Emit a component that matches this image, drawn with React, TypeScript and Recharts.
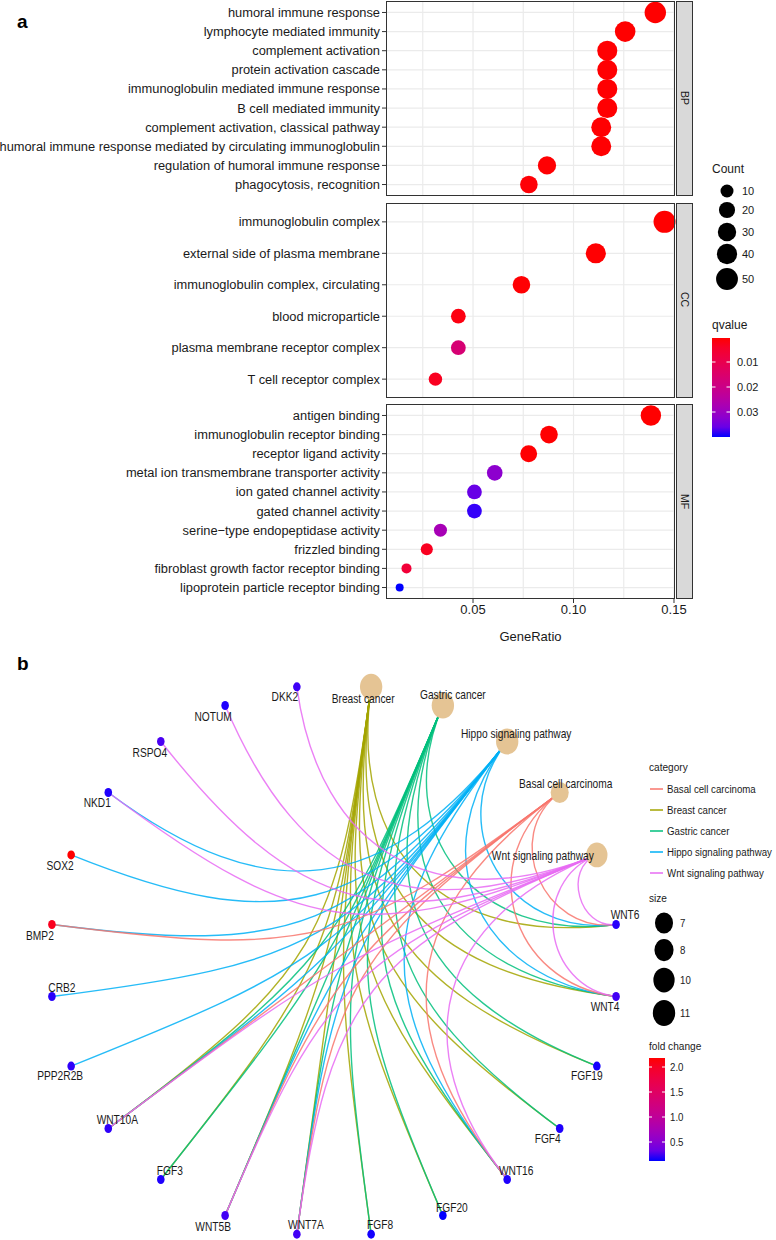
import React from 'react';
import { ScatterChart, ComposedChart, Scatter, Line, XAxis, YAxis, CartesianGrid } from 'recharts';

// ---------------- panel a : GO dot plot ----------------
const bpTerms = [
  'humoral immune response',
  'lymphocyte mediated immunity',
  'complement activation',
  'protein activation cascade',
  'immunoglobulin mediated immune response',
  'B cell mediated immunity',
  'complement activation, classical pathway',
  'humoral immune response mediated by circulating immunoglobulin',
  'regulation of humoral immune response',
  'phagocytosis, recognition',
];
const bpRatio = [0.1407, 0.1257, 0.1168, 0.1168, 0.1168, 0.1168, 0.1138, 0.1138, 0.0868, 0.0778];
const bpCount = [47, 42, 39, 39, 39, 39, 38, 38, 29, 26];
const bpQvalue = [0.0004, 0.0004, 0.0005, 0.0005, 0.0005, 0.0005, 0.0005, 0.0005, 0.0006, 0.0008];

const ccTerms = [
  'immunoglobulin complex',
  'external side of plasma membrane',
  'immunoglobulin complex, circulating',
  'blood microparticle',
  'plasma membrane receptor complex',
  'T cell receptor complex',
];
const ccRatio = [0.1453, 0.1111, 0.0741, 0.0427, 0.0427, 0.0313];
const ccCount = [51, 39, 26, 15, 15, 11];
const ccQvalue = [0.0004, 0.0005, 0.0006, 0.0015, 0.0165, 0.003];

const mfTerms = [
  'antigen binding',
  'immunoglobulin receptor binding',
  'receptor ligand activity',
  'metal ion transmembrane transporter activity',
  'ion gated channel activity',
  'gated channel activity',
  'serine\u2212type endopeptidase activity',
  'frizzled binding',
  'fibroblast growth factor receptor binding',
  'lipoprotein particle receptor binding',
];
const mfRatio = [0.1385, 0.0878, 0.0777, 0.0608, 0.0507, 0.0507, 0.0338, 0.027, 0.0169, 0.0135];
const mfCount = [41, 26, 23, 18, 15, 15, 10, 8, 5, 4];
const mfQvalue = [0.0004, 0.0005, 0.0006, 0.032, 0.036, 0.039, 0.028, 0.003, 0.0064, 0.04];

const ratioTicks = [0.05, 0.1, 0.15];
const ratioGrid = [0.025, 0.05, 0.075, 0.1, 0.125, 0.15];
const countBreaks = [10, 20, 30, 40, 50];
const qBreaks = [0.01, 0.02, 0.03];

// ---------------- panel b : gene-concept network ----------------
const pathways = ['Breast cancer', 'Gastric cancer', 'Hippo signaling pathway', 'Basal cell carcinoma', 'Wnt signaling pathway'];
const pathwaySize = [11, 11, 11, 7, 10];
const legendPathways = ['Basal cell carcinoma', 'Breast cancer', 'Gastric cancer', 'Hippo signaling pathway', 'Wnt signaling pathway'];

const genes = [
  'WNT6', 'WNT4', 'FGF19', 'FGF4', 'WNT16', 'FGF20', 'FGF8', 'WNT7A', 'WNT5B', 'FGF3',
  'WNT10A', 'PPP2R2B', 'CRB2', 'BMP2', 'SOX2', 'NKD1', 'RSPO4', 'NOTUM', 'DKK2',
];
const foldChange = [0.15, 0.2, 0.13, 0.14, 0.14, 0.12, 0.13, 0.2, 0.2, 0.14, 0.16, 0.16, 0.15, 2.05, 2.18, 0.14, 0.22, 0.14, 0.19];

const breastGenes = ['WNT6', 'WNT4', 'FGF19', 'FGF4', 'WNT16', 'FGF20', 'FGF8', 'WNT7A', 'WNT5B', 'FGF3', 'WNT10A'];
const gastricGenes = ['WNT6', 'WNT4', 'FGF19', 'FGF4', 'WNT16', 'FGF20', 'FGF8', 'WNT7A', 'WNT5B', 'FGF3', 'WNT10A'];
const hippoGenes = ['WNT6', 'WNT4', 'WNT16', 'WNT7A', 'WNT5B', 'WNT10A', 'PPP2R2B', 'CRB2', 'BMP2', 'SOX2', 'NKD1'];
const basalGenes = ['WNT6', 'WNT4', 'WNT16', 'WNT7A', 'WNT5B', 'WNT10A', 'BMP2'];
const wntGenes = ['WNT6', 'WNT4', 'WNT16', 'WNT7A', 'WNT5B', 'WNT10A', 'NKD1', 'RSPO4', 'NOTUM', 'DKK2'];
const pathwayGenes = [breastGenes, gastricGenes, hippoGenes, basalGenes, wntGenes];

const sizeBreaks = [7, 8, 10, 11];
const fcBreaks = [0.5, 1.0, 1.5, 2.0];

// ---------------- styling ----------------
const FONT = "'Liberation Sans', Arial, Helvetica, sans-serif";
const TEXT = '#1A1A1A';
const PATHWAY_COLOR: Record<string, string> = {
  'Basal cell carcinoma': '#F8766D',
  'Breast cancer': '#A3A500',
  'Gastric cancer': '#00BF7D',
  'Hippo signaling pathway': '#00B0F6',
  'Wnt signaling pathway': '#E76BF3',
};
// label placement (ggrepel-like offsets, px)
const LABEL_NUDGE: Record<string, [number, number]> = {
  'Breast cancer': [-8, 12],
  'Gastric cancer': [10, -11],
  'Hippo signaling pathway': [9, -8],
  'Basal cell carcinoma': [6, -9],
  'Wnt signaling pathway': [-54, 1],
  WNT6: [9, -10], WNT4: [-11, 10], FGF19: [-10, 10], FGF4: [-12, 10], WNT16: [9, -9],
  FGF20: [9, -8], FGF8: [9, -9], WNT7A: [9, -9], WNT5B: [-12, 11], FGF3: [9, -9],
  WNT10A: [9, -9], PPP2R2B: [-11, 10], CRB2: [10, -9], BMP2: [-12, 11], SOX2: [-11, 11],
  NKD1: [-11, 10], RSPO4: [-11, 11], NOTUM: [-12, 11], DKK2: [-12, 10],
};

// colour ramps interpolated in CIELAB like ggplot2
const toLin = (c: number) => { c /= 255; return c <= 0.04045 ? c / 12.92 : Math.pow((c + 0.055) / 1.055, 2.4); };
const fromLin = (c: number) => {
  const v = c <= 0.0031308 ? 12.92 * c : 1.055 * Math.pow(Math.max(c, 0), 1 / 2.4) - 0.055;
  return Math.round(Math.max(0, Math.min(1, v)) * 255);
};
const hexToLab = (hex: string) => {
  const r = toLin(parseInt(hex.slice(1, 3), 16));
  const g = toLin(parseInt(hex.slice(3, 5), 16));
  const b = toLin(parseInt(hex.slice(5, 7), 16));
  const X = (0.4124 * r + 0.3576 * g + 0.1805 * b) / 0.95047;
  const Y = 0.2126 * r + 0.7152 * g + 0.0722 * b;
  const Z = (0.0193 * r + 0.1192 * g + 0.9505 * b) / 1.08883;
  const f = (t: number) => (t > 0.008856 ? Math.cbrt(t) : 7.787 * t + 16 / 116);
  return [116 * f(Y) - 16, 500 * (f(X) - f(Y)), 200 * (f(Y) - f(Z))];
};
const labToRgb = (L: number, a: number, bb: number) => {
  const fy = (L + 16) / 116, fx = fy + a / 500, fz = fy - bb / 200;
  const inv = (t: number) => (t * t * t > 0.008856 ? t * t * t : (t - 16 / 116) / 7.787);
  const X = inv(fx) * 0.95047, Y = inv(fy), Z = inv(fz) * 1.08883;
  const r = 3.2406 * X - 1.5372 * Y - 0.4986 * Z;
  const g = -0.9689 * X + 1.8758 * Y + 0.0415 * Z;
  const b = 0.0557 * X - 0.204 * Y + 1.057 * Z;
  return `rgb(${fromLin(r)},${fromLin(g)},${fromLin(b)})`;
};
const ramp = (low: string, high: string) => {
  const A = hexToLab(low), B = hexToLab(high);
  return (t: number) => {
    const u = Math.max(0, Math.min(1, t));
    return labToRgb(A[0] + (B[0] - A[0]) * u, A[1] + (B[1] - A[1]) * u, A[2] + (B[2] - A[2]) * u);
  };
};

const allQ = [...bpQvalue, ...ccQvalue, ...mfQvalue];
const qMin = Math.min(...allQ), qMax = Math.max(...allQ);
const qRamp = ramp('#FF0000', '#0000FF');
const qColor = (q: number) => qRamp((q - qMin) / (qMax - qMin));

const allCounts = [...bpCount, ...ccCount, ...mfCount];
const cMin = Math.min(...allCounts), cMax = Math.max(...allCounts);
const countRadius = (c: number) => (8 + 14 * Math.sqrt(Math.max(0, c - cMin) / (cMax - cMin))) / 2;

const fcMin = Math.min(...foldChange), fcMax = Math.max(...foldChange);
const fcRamp = ramp('#0000FF', '#FF0000');
const fcColor = (v: number) => fcRamp((v - fcMin) / (fcMax - fcMin));

const pathwayRy = (s: number) => 10.5 + (s - 7) * 0.625;

// ---------------- panel a components ----------------
const PANEL_H = 195;
const PLOT_LEFT = 386;
const PLOT_RIGHT = 675;
const CHART_W = 700;
const X_DOMAIN = [0.0067, 0.1505];

const GoDot = (props: any) => {
  const { cx, cy, payload } = props;
  if (cx == null || cy == null) return null;
  return <circle cx={cx} cy={cy} r={countRadius(payload.count)} fill={qColor(payload.qvalue)} />;
};

// plain one-line tick label (Recharts' own Text would wrap the long term)
const TermTick = (props: any) => {
  const { x, y, payload, terms } = props;
  return (
    <text x={x} y={y} textAnchor="end" dominantBaseline="central" fontSize={12.85} fill={TEXT}>
      {terms[payload.value]}
    </text>
  );
};

const Facet = ({ name, terms, ratio, count, qvalue, top, showAxis }: any) => {
  const data = terms.map((term: string, i: number) => ({ term, idx: i, ratio: ratio[i], count: count[i], qvalue: qvalue[i] }));
  const idx = data.map((d: any) => d.idx);
  const axisH = showAxis ? 26 : 0;
  return (
    <div style={{ position: 'absolute', left: 0, top, width: CHART_W, height: PANEL_H + axisH }}>
      <ScatterChart
        width={CHART_W}
        height={PANEL_H + axisH}
        margin={{ top: 0, right: CHART_W - PLOT_RIGHT, bottom: 0, left: 0 }}
      >
        <CartesianGrid stroke="#EBEBEB" strokeWidth={1.2} horizontalValues={idx} verticalValues={ratioGrid} />
        <XAxis
          type="number"
          dataKey="ratio"
          domain={X_DOMAIN}
          ticks={ratioTicks}
          hide={!showAxis}
          height={axisH || 1}
          axisLine={false}
          tickSize={4}
          tickMargin={2}
          tickLine={{ stroke: '#333333' }}
          tick={{ fill: TEXT, fontSize: 13 }}
          tickFormatter={(v: number) => v.toFixed(2)}
        />
        <YAxis
          type="number"
          dataKey="idx"
          domain={[-0.6, terms.length - 0.4]}
          reversed
          ticks={idx}
          interval={0}
          width={PLOT_LEFT}
          axisLine={false}
          tickSize={4}
          tickMargin={2}
          tickLine={{ stroke: '#333333' }}
          tick={<TermTick terms={terms} />}
        />
        <Scatter data={data} shape={GoDot} isAnimationActive={false} />
      </ScatterChart>
      <div
        style={{
          position: 'absolute', left: PLOT_LEFT, top: 0, width: PLOT_RIGHT - PLOT_LEFT, height: PANEL_H,
          border: '1px solid #333333', boxSizing: 'border-box', pointerEvents: 'none',
        }}
      />
      <div
        style={{
          position: 'absolute', left: PLOT_RIGHT + 1, top: 0, width: 17, height: PANEL_H,
          background: '#D9D9D9', border: '1px solid #333333', boxSizing: 'border-box',
          display: 'flex', alignItems: 'center', justifyContent: 'center',
          writingMode: 'vertical-rl', fontSize: 10.5, color: TEXT,
        }}
      >
        {name}
      </div>
    </div>
  );
};

// ---------------- panel b components ----------------
const nodeNames = [...pathways, ...genes];
const nodePos = (name: string) => {
  const k = nodeNames.indexOf(name);
  const a = Math.PI / 2 - ((2 * Math.PI) / nodeNames.length) * (k + 0.5);
  return { x: Math.cos(a), y: Math.sin(a) };
};

// ggraph circular arc: cubic bezier whose control points are the end points
// pulled toward the centre by half the chord length
const arcControls = (p: { x: number; y: number }, q: { x: number; y: number }) => {
  const d = Math.hypot(q.x - p.x, q.y - p.y) / 2;
  return [p, { x: p.x * (1 - d), y: p.y * (1 - d) }, { x: q.x * (1 - d), y: q.y * (1 - d) }, q];
};

const bezierCurve = (context: any) => {
  let pts: number[][] = [];
  return {
    areaStart() {},
    areaEnd() {},
    lineStart() { pts = []; },
    point(x: number, y: number) { pts.push([+x, +y]); },
    lineEnd() {
      if (!pts.length) return;
      context.moveTo(pts[0][0], pts[0][1]);
      if (pts.length === 4) context.bezierCurveTo(pts[1][0], pts[1][1], pts[2][0], pts[2][1], pts[3][0], pts[3][1]);
      else pts.slice(1).forEach((p) => context.lineTo(p[0], p[1]));
    },
  };
};

const edges = pathways.flatMap((p, i) =>
  pathwayGenes[i].map((g) => ({ id: `${p}|${g}`, color: PATHWAY_COLOR[p], data: arcControls(nodePos(p), nodePos(g)) }))
);
const pathwayNodes = pathways.map((p, i) => ({ name: p, size: pathwaySize[i], ...nodePos(p) }));
const geneNodes = genes.map((g, i) => ({ name: g, fc: foldChange[i], ...nodePos(g) }));

const NodeLabel = ({ cx, cy, name }: any) => {
  const [dx, dy] = LABEL_NUDGE[name] || [0, 0];
  return (
    <text
      transform={`translate(${cx + dx},${cy + dy}) scale(0.85,1)`}
      textAnchor="middle"
      dominantBaseline="central"
      fontSize={12}
      fill={TEXT}
    >
      {name}
    </text>
  );
};

const PathwayNode = (props: any) => {
  const { cx, cy, payload } = props;
  if (cx == null || cy == null) return null;
  const ry = pathwayRy(payload.size);
  return (
    <g>
      <ellipse cx={cx} cy={cy} rx={ry * 0.86} ry={ry} fill="#E5C494" />
      <NodeLabel cx={cx} cy={cy} name={payload.name} />
    </g>
  );
};

const GeneNode = (props: any) => {
  const { cx, cy, payload } = props;
  if (cx == null || cy == null) return null;
  return (
    <g>
      <ellipse cx={cx} cy={cy} rx={3.8} ry={4.5} fill={fcColor(payload.fc)} />
      <NodeLabel cx={cx} cy={cy} name={payload.name} />
    </g>
  );
};

// unit circle -> 284.5 px horizontally, 276 px vertically, centre at (334, 960.5)
const NET_TOP = 640;
const NET_W = 776;
const NET_H = 600;
const NET_X = [-1.1, 1.1];
const NET_Y = [-1.0, 1.1];
const netMargin = {
  left: 334 - 1.1 * 284.5,
  right: NET_W - (334 + 1.1 * 284.5),
  top: 960.5 - NET_TOP - 1.1 * 276,
  bottom: NET_H - (960.5 - NET_TOP + 1.0 * 276),
};

const Network = () => (
  <div style={{ position: 'absolute', left: 0, top: NET_TOP, width: NET_W, height: NET_H }}>
    <ComposedChart width={NET_W} height={NET_H} margin={netMargin}>
      <XAxis type="number" dataKey="x" domain={NET_X} hide />
      <YAxis type="number" dataKey="y" domain={NET_Y} hide />
      {edges.map((e) => (
        <Line
          key={e.id}
          data={e.data}
          dataKey="y"
          type={bezierCurve as any}
          stroke={e.color}
          strokeOpacity={0.85}
          strokeWidth={1.4}
          dot={false}
          activeDot={false}
          isAnimationActive={false}
        />
      ))}
      <Scatter data={pathwayNodes} shape={PathwayNode} isAnimationActive={false} />
      <Scatter data={geneNodes} shape={GeneNode} isAnimationActive={false} />
    </ComposedChart>
  </div>
);

// ---------------- legends ----------------
const Legends = () => {
  const qy = (q: number) => 338 + ((q - qMin) / (qMax - qMin)) * 99;
  const fy = (v: number) => 1058 + ((fcMax - v) / (fcMax - fcMin)) * 103;
  const countY = [191, 210, 232, 254, 279];
  const sizeY = [923, 950, 980, 1013];
  const stops = Array.from({ length: 11 }, (_, i) => i / 10);
  const narrow = (x: number, y: number) => `translate(${x},${y}) scale(0.88,1)`;
  return (
    <svg width={776} height={1240} style={{ position: 'absolute', left: 0, top: 0, pointerEvents: 'none' }} fontFamily={FONT}>
      <defs>
        <linearGradient id="qGrad" x1="0" y1="0" x2="0" y2="1">
          {stops.map((s) => <stop key={s} offset={s} stopColor={qColor(qMin + s * (qMax - qMin))} />)}
        </linearGradient>
        <linearGradient id="fcGrad" x1="0" y1="0" x2="0" y2="1">
          {stops.map((s) => <stop key={s} offset={s} stopColor={fcColor(fcMax - s * (fcMax - fcMin))} />)}
        </linearGradient>
      </defs>

      <text x={17} y={21} dominantBaseline="central" fontSize={19} fontWeight="bold" fill="#000">a</text>
      <text x={17} y={663} dominantBaseline="central" fontSize={19} fontWeight="bold" fill="#000">b</text>

      {/* Count */}
      <text x={712} y={169} dominantBaseline="central" fontSize={12} fill={TEXT}>Count</text>
      {countBreaks.map((c, i) => (
        <g key={c}>
          <circle cx={727} cy={countY[i]} r={countRadius(c)} fill="#000" />
          <text x={742} y={countY[i]} dominantBaseline="central" fontSize={11} fill={TEXT}>{c}</text>
        </g>
      ))}

      {/* qvalue */}
      <text x={712} y={325} dominantBaseline="central" fontSize={12} fill={TEXT}>qvalue</text>
      <rect x={712} y={338} width={18} height={99} fill="url(#qGrad)" />
      {qBreaks.map((q) => (
        <g key={q}>
          <line x1={712} x2={715.5} y1={qy(q)} y2={qy(q)} stroke="#fff" strokeWidth={1} />
          <line x1={726.5} x2={730} y1={qy(q)} y2={qy(q)} stroke="#fff" strokeWidth={1} />
          <text x={737} y={qy(q)} dominantBaseline="central" fontSize={11} fill={TEXT}>{q.toFixed(2)}</text>
        </g>
      ))}

      {/* category */}
      <text transform={narrow(649, 767)} dominantBaseline="central" fontSize={11.5} fill={TEXT}>category</text>
      {legendPathways.map((p, i) => (
        <g key={p}>
          <line x1={650} x2={663} y1={789 + 21 * i} y2={789 + 21 * i} stroke={PATHWAY_COLOR[p]} strokeWidth={1.5} />
          <text transform={narrow(667, 789 + 21 * i)} dominantBaseline="central" fontSize={11} fill={TEXT}>{p}</text>
        </g>
      ))}

      {/* size */}
      <text transform={narrow(649, 898)} dominantBaseline="central" fontSize={11.5} fill={TEXT}>size</text>
      {sizeBreaks.map((s, i) => (
        <g key={s}>
          <ellipse cx={664} cy={sizeY[i]} rx={pathwayRy(s) * 0.86} ry={pathwayRy(s)} fill="#000" />
          <text transform={narrow(680, sizeY[i])} dominantBaseline="central" fontSize={11} fill={TEXT}>{s}</text>
        </g>
      ))}

      {/* fold change */}
      <text transform={narrow(649, 1046)} dominantBaseline="central" fontSize={11.5} fill={TEXT}>fold change</text>
      <rect x={649} y={1058} width={16} height={103} fill="url(#fcGrad)" />
      {fcBreaks.map((v) => (
        <g key={v}>
          <line x1={649} x2={652} y1={fy(v)} y2={fy(v)} stroke="#fff" strokeWidth={1} />
          <line x1={662} x2={665} y1={fy(v)} y2={fy(v)} stroke="#fff" strokeWidth={1} />
          <text transform={narrow(670, fy(v))} dominantBaseline="central" fontSize={11} fill={TEXT}>{v.toFixed(1)}</text>
        </g>
      ))}
    </svg>
  );
};

export default function App() {
  return (
    <div
      style={{
        position: 'absolute', left: 0, top: 0, width: 776, height: 1240,
        background: '#fff', fontFamily: FONT, overflow: 'hidden',
      }}
    >
      <Facet name="BP" terms={bpTerms} ratio={bpRatio} count={bpCount} qvalue={bpQvalue} top={1} showAxis={false} />
      <Facet name="CC" terms={ccTerms} ratio={ccRatio} count={ccCount} qvalue={ccQvalue} top={202.5} showAxis={false} />
      <Facet name="MF" terms={mfTerms} ratio={mfRatio} count={mfCount} qvalue={mfQvalue} top={404} showAxis />
      <div
        style={{
          position: 'absolute', left: PLOT_LEFT, top: 629, width: PLOT_RIGHT - PLOT_LEFT,
          textAlign: 'center', fontSize: 13, lineHeight: '16px', color: TEXT,
        }}
      >
        GeneRatio
      </div>
      <Network />
      <Legends />
    </div>
  );
}
